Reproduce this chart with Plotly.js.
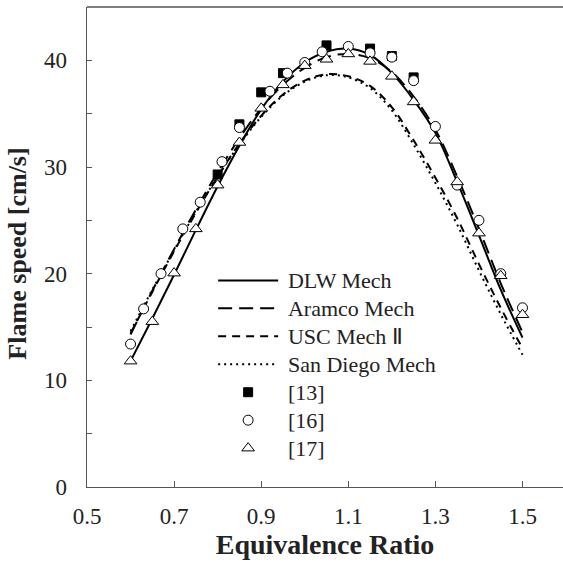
<!DOCTYPE html>
<html>
<head>
<meta charset="utf-8">
<script src="https://cdn.plot.ly/plotly-3.0.1.min.js"></script>
<style>html,body{margin:0;padding:0;background:#fff;overflow:hidden}</style>
</head>
<body>
<div id="chart" style="width:563px;height:563px"></div>
<script>
// Curve x grid (equivalence ratio)
const phiCurve = [0.6,0.65,0.7,0.75,0.8,0.85,0.9,0.95,1.0,1.05,1.1,1.15,1.2,1.25,1.3,1.35,1.4,1.45,1.5];
const dlw      = [11.8,15.8,19.9,24.1,28.2,32.0,35.4,38.0,39.8,40.8,41.1,40.5,38.8,36.3,33.2,28.6,23.6,18.5,14.0];
const aramco   = [14.3,18.4,22.3,26.0,29.5,32.7,35.5,37.7,39.3,40.3,40.6,40.2,38.9,36.6,33.5,29.1,24.2,19.1,14.5];
const uscII    = [14.4,18.3,22.1,25.7,29.1,32.2,34.8,36.8,38.1,38.7,38.5,37.6,35.6,32.5,29.0,25.2,20.9,16.8,13.0];
const sanDiego = [14.6,18.5,22.2,25.8,29.1,32.1,34.7,36.7,38.0,38.6,38.4,37.4,35.3,32.1,28.5,24.6,20.3,16.2,12.4];

// Experimental data
const ref13x = [0.8,0.85,0.9,0.95,1.05,1.15,1.2,1.25];
const ref13y = [29.3,34.0,37.0,38.8,41.4,41.1,40.4,38.4];
const ref16x = [0.6,0.63,0.67,0.72,0.76,0.81,0.85,0.92,0.96,1.0,1.04,1.1,1.15,1.2,1.25,1.3,1.35,1.4,1.45,1.5];
const ref16y = [13.4,16.7,20.0,24.2,26.7,30.5,33.7,37.1,38.8,39.8,40.8,41.3,40.7,40.3,38.1,33.8,28.3,25.0,20.0,16.8];
const ref17x = [0.6,0.65,0.7,0.75,0.8,0.85,0.9,0.95,1.0,1.05,1.1,1.15,1.2,1.25,1.3,1.35,1.4,1.45,1.5];
const ref17y = [11.8,15.5,20.05,24.2,28.3,32.3,35.5,37.7,39.5,40.1,40.6,39.9,38.5,36.1,32.5,28.6,23.8,19.8,16.15];

const xTicks = [0.5,0.7,0.9,1.1,1.3,1.5];
const yTicks = [0,10,20,30,40];
const seriesNames = ['DLW Mech', 'Aramco Mech', 'USC Mech \u2161', 'San Diego Mech', '[13]', '[16]', '[17]'];

const FONT = 'Liberation Serif, serif';
const lineW = 2;
const lg = s => '&nbsp;<span style="font-size:22px">' + s + '</span>';

const traces = [
  {x: phiCurve, y: dlw, name: lg(seriesNames[0]), mode: 'lines', line: {color: '#000', width: lineW, dash: 'solid', shape: 'spline'}},
  {x: phiCurve, y: aramco, name: lg(seriesNames[1]), mode: 'lines', line: {color: '#000', width: lineW, dash: '14px,7px', shape: 'spline'}},
  {x: phiCurve, y: uscII, name: lg(seriesNames[2]), mode: 'lines', line: {color: '#000', width: lineW, dash: '8px,6px', shape: 'spline'}},
  {x: phiCurve, y: sanDiego, name: lg(seriesNames[3]), mode: 'lines', line: {color: '#000', width: lineW, dash: '2px,4px', shape: 'spline'}},
  {x: ref13x, y: ref13y, name: lg(seriesNames[4]), mode: 'markers', marker: {symbol: 'square', size: 9, color: '#000', line: {color: '#000', width: 1}}},
  {x: ref16x, y: ref16y, name: lg(seriesNames[5]), mode: 'markers', marker: {symbol: 'circle', size: 10, color: '#fff', line: {color: '#000', width: 1}}},
  {x: ref17x, y: ref17y, name: lg(seriesNames[6]), mode: 'markers', marker: {symbol: 'triangle-up', size: 11, color: '#fff', line: {color: '#000', width: 1}}}
];

const layout = {
  width: 563, height: 563,
  margin: {l: 87, r: 0, t: 7, b: 76},
  paper_bgcolor: '#fff', plot_bgcolor: '#fff',
  font: {family: FONT, color: '#222', size: 22},
  showlegend: true,
  legend: {
    x: 0.265, y: 0.47, xanchor: 'left', yanchor: 'top',
    bgcolor: 'rgba(0,0,0,0)', borderwidth: 0,
    font: {family: FONT, size: 19.2, color: '#222'},
    itemwidth: 60, tracegroupgap: 0
  },
  xaxis: {
    range: [0.5, 1.593],
    tickmode: 'array', tickvals: xTicks, ticktext: xTicks.map(v => v.toFixed(1)),
    ticks: 'inside', ticklen: 6, tickcolor: '#555', tickwidth: 1,
    showline: true, linecolor: '#555', linewidth: 1.3,
    showgrid: false, zeroline: false,
    tickfont: {family: FONT, size: 23, color: '#222'},
    ticklabelstandoff: 8,
    title: {text: '<b>Equivalence Ratio</b>', font: {family: FONT, size: 28, color: '#222'}, standoff: 0},
    automargin: false
  },
  yaxis: {
    range: [0, 45],
    tickmode: 'array', tickvals: yTicks, ticktext: yTicks.map(String),
    ticks: 'inside', ticklen: 5, tickcolor: '#555', tickwidth: 1,
    minor: {dtick: 5, ticks: 'inside', ticklen: 5, tickcolor: '#555', showgrid: false},
    showline: true, linecolor: '#555', linewidth: 1.3,
    showgrid: false, zeroline: false,
    tickfont: {family: FONT, size: 23, color: '#222'},
    ticklabelstandoff: 14,
    title: {text: '<b>Flame speed [cm/s]</b>&nbsp;&nbsp;', font: {family: FONT, size: 26, color: '#222'}, standoff: 10},
    automargin: false
  },
  shapes: [
    {type: 'line', xref: 'paper', yref: 'paper', x0: 0, x1: 1, y0: 1, y1: 1, line: {color: '#555', width: 1.3}}
  ]
};

Plotly.newPlot('chart', traces, layout, {displayModeBar: false, staticPlot: true});
</script>
</body>
</html>
